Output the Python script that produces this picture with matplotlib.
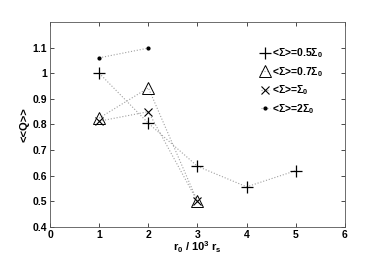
import numpy as np
import matplotlib.pyplot as plt

plt.rcParams['font.family'] = ['Liberation Sans', 'DejaVu Sans']
plt.rcParams['font.weight'] = 'bold'
plt.rcParams['mathtext.fontset'] = 'custom'
plt.rcParams['mathtext.bf'] = 'Liberation Sans:bold'
plt.rcParams['mathtext.rm'] = 'Liberation Sans:bold'
plt.rcParams['mathtext.default'] = 'bf'

# data
r_half = [1, 2, 3, 4, 5]
q_half = [1.0, 0.805, 0.637, 0.557, 0.62]
r_07 = [1, 2, 3]
q_07 = [0.825, 0.943, 0.5]
r_one = [1, 2, 3]
q_one = [0.813, 0.850, 0.5]
r_two = [1, 2]
q_two = [1.060, 1.098]

labels = [r'<$\Sigma$>=0.5$\Sigma_0$', r'<$\Sigma$>=0.7$\Sigma_0$',
          r'<$\Sigma$>=$\Sigma_0$', r'<$\Sigma$>=2$\Sigma_0$']

fig = plt.figure(figsize=(3.82, 2.61), dpi=100)
ax = fig.add_axes([0.131, 0.130, 0.772, 0.786])

lc = '#a0a0a0'
ax.plot(r_half, q_half, color=lc, ls=':', lw=0.8, marker='+', ms=8, mec='k', mew=0.9, label=labels[0])
ax.plot(r_07, q_07, color=lc, ls=':', lw=0.8, marker='^', ms=9, mfc='none', mec='k', mew=0.7, label=labels[1])
ax.plot(r_one, q_one, color=lc, ls=':', lw=0.8, marker='x', ms=6, mec='k', mew=0.8, label=labels[2])
ax.plot(r_two, q_two, color=lc, ls=':', lw=0.8, marker='.', ms=4, mec='k', mfc='k', label=labels[3])

ax.set_xlim(0, 6)
ax.set_ylim(0.4, 1.2)
ax.set_xticks([0, 1, 2, 3, 4, 5, 6])
ax.set_yticks([0.4, 0.5, 0.6, 0.7, 0.8, 0.9, 1.0, 1.1])
ax.set_yticklabels(['0.4', '0.5', '0.6', '0.7', '0.8', '0.9', '1', '1.1'])
ax.tick_params(direction='in', top=True, right=True, labelsize=7.5, length=3, width=0.5, colors='k', pad=2)
for lab in ax.get_xticklabels() + ax.get_yticklabels():
    lab.set_fontweight('bold')
for s in ax.spines.values():
    s.set_linewidth(0.6)
    s.set_color('#555555')

ax.set_xlabel(r'r$_0$ / 10$^3$ r$_s$', fontsize=8, fontweight='bold', labelpad=0)
ax.set_ylabel('<<Q>>', fontsize=8, fontweight='bold', labelpad=2)

leg = ax.legend(loc='upper left', bbox_to_anchor=(0.70, 0.90), frameon=False, fontsize=7.5,
                handlelength=0.9, handletextpad=0.15, labelspacing=0.45, borderaxespad=0,
                markerscale=1.0)
for t in leg.get_texts():
    t.set_fontweight('bold')

plt.savefig('out.png', dpi=100)
